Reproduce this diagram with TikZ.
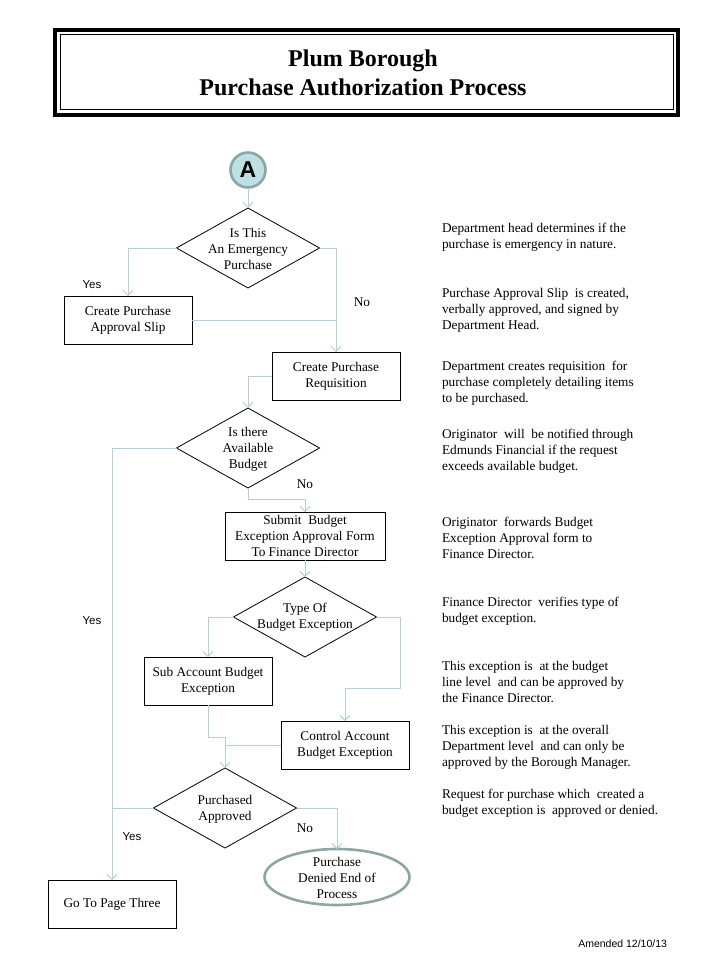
\documentclass[tikz,border=0pt]{standalone}
\usepackage{fontspec}
\setmainfont{Liberation Serif}
\setsansfont{Liberation Sans}
\usetikzlibrary{shapes.geometric,arrows.meta}
\definecolor{conn}{HTML}{B4D0D8}
\definecolor{circfill}{HTML}{BCE0E3}
\definecolor{circedge}{HTML}{8CA6A6}
\tikzset{
  x=1pt,y=-1pt,
  every node/.style={inner sep=0pt,outer sep=0pt},
  txt/.style={font=\fontsize{13.3}{16}\selectfont,align=center},
  note/.style={font=\fontsize{13.3}{16}\selectfont,align=left,anchor=west},
  procbox/.style={draw=black,line width=0.8pt,minimum height=48pt,txt},
  decision/.style={draw=black,line width=0.8pt,shape=diamond,minimum width=143pt,minimum height=80pt},
  endell/.style={draw=circedge,line width=2.6pt,shape=ellipse,minimum width=145pt,minimum height=56pt},
  conline/.style={draw=conn,line width=0.9pt},
  arr/.style={conline,-{Straight Barb[length=5pt,width=10pt]}},
  yeslbl/.style={font=\sffamily\fontsize{11.5}{14}\selectfont},
  nolbl/.style={font=\fontsize{13.3}{16}\selectfont},
}
\begin{document}
\begin{tikzpicture}
\useasboundingbox (0,0) rectangle (720,960);
% title
\node[draw=black,line width=4.5pt,minimum width=623pt,minimum height=85pt] (title) at (366.5,72.5) {};
\draw[line width=1pt] ([shift={(5,5)}]title.north west) rectangle ([shift={(-5,-5)}]title.south east);
\node[font=\bfseries\fontsize{24}{29}\selectfont,align=center] (ttext) at (363,73) {Plum Borough\\Purchase Authorization Process};
% connector A
\node[circle,draw=circedge,fill=circfill,line width=2.6pt,minimum size=35pt,font=\sffamily\bfseries\fontsize{23}{23}\selectfont] (A) at (248,170) {A};
% decisions
\node[decision] (d1) at (248,248) {};
\node[txt] (d1t) at (248,249) {Is This\\An Emergency\\Purchase};
\node[decision] (d2) at (248,448) {};
\node[txt] (d2t) at (248,449) {Is there\\Available\\Budget};
\node[decision] (d3) at (305,617) {};
\node[txt] (d3t) at (305,617) {Type Of\\Budget Exception};
\node[decision] (d4) at (225,808) {};
\node[txt] (d4t) at (225,809) {Purchased\\Approved};
% boxes
\node[procbox,minimum width=128pt] (b1) at (128,320) {Create Purchase\\Approval Slip};
\node[procbox,minimum width=128pt] (b2) at (336,376) {Create Purchase\\Requisition};
\node[procbox,minimum width=160pt] (b3) at (305,536) {Submit~ Budget\\Exception Approval Form\\To Finance Director};
\node[procbox,minimum width=128pt] (b4) at (208,681) {Sub Account Budget\\Exception};
\node[procbox,minimum width=128pt] (b5) at (345,745) {Control Account\\Budget Exception};
\node[procbox,minimum width=128pt] (b6) at (112,904) {Go To Page Three};
\node[endell] (e1) at (337,877) {};
\node[txt] (e1t) at (337,878) {Purchase\\Denied End of\\Process};
% connectors
\draw[arr] (A) -- (d1.north);
\draw[arr] (d1.west) -| (b1.north);
\draw[arr] (d1.east) -| (b2.north);
\draw[conline] (b1.east) -- (b1.east -| b2.north);
\draw[arr] (b2.west) -| (d2.north);
\draw[arr] (d2.west) -| (b6.north);
\draw[arr] (d2.south) -- ++(0,11) -| (b3.north);
\draw[arr] (b3.south) -- (d3.north);
\draw[arr] (d3.west) -| (b4.north);
\draw[arr] (d3.east) -- ++(24,0) -- ++(0,71) -| (b5.north);
\draw[arr] (b4.south) -- ++(0,32) -| (d4.north);
\draw[conline] (b5.west) -- (b5.west -| d4.north);
\draw[conline] (d4.west) -- (d4.west -| b6.north);
\draw[arr] (d4.east) -| (e1.north);
% branch labels
\node[yeslbl] (y1) at (92,285) {Yes};
\node[nolbl] (n1) at (362,302) {No};
\node[nolbl] (n2) at (305,484) {No};
\node[yeslbl] (y2) at (92,621) {Yes};
\node[nolbl] (n3) at (305,828) {No};
\node[yeslbl] (y3) at (132,837) {Yes};
% notes
\node[note] (t1) at (442,237) {Department head determines if the\\purchase is emergency in nature.};
\node[note] (t2) at (442,310) {Purchase Approval Slip~ is created,\\verbally approved, and signed by\\Department Head.};
\node[note] (t3) at (442,383) {Department creates requisition~ for\\purchase completely detailing items\\to be purchased.};
\node[note] (t4) at (442,451) {Originator~ will~ be notified through\\Edmunds Financial if the request\\exceeds available budget.};
\node[note] (t5) at (442,538) {Originator~ forwards Budget\\Exception Approval form to\\Finance Director.};
\node[note] (t6) at (442,611) {Finance Director~ verifies type of\\budget exception.};
\node[note] (t7) at (442,682) {This exception is~ at the budget\\line level~ and can be approved by\\the Finance Director.};
\node[note] (t8) at (442,747) {This exception is~ at the overall\\Department level~ and can only be\\approved by the Borough Manager.};
\node[note] (t9) at (442,803) {Request for purchase which~ created a\\budget exception is~ approved or denied.};
\node[font=\sffamily\fontsize{10.5}{12}\selectfont,anchor=east] (amend) at (667,944) {Amended 12/10/13};
\end{tikzpicture}
\end{document}
